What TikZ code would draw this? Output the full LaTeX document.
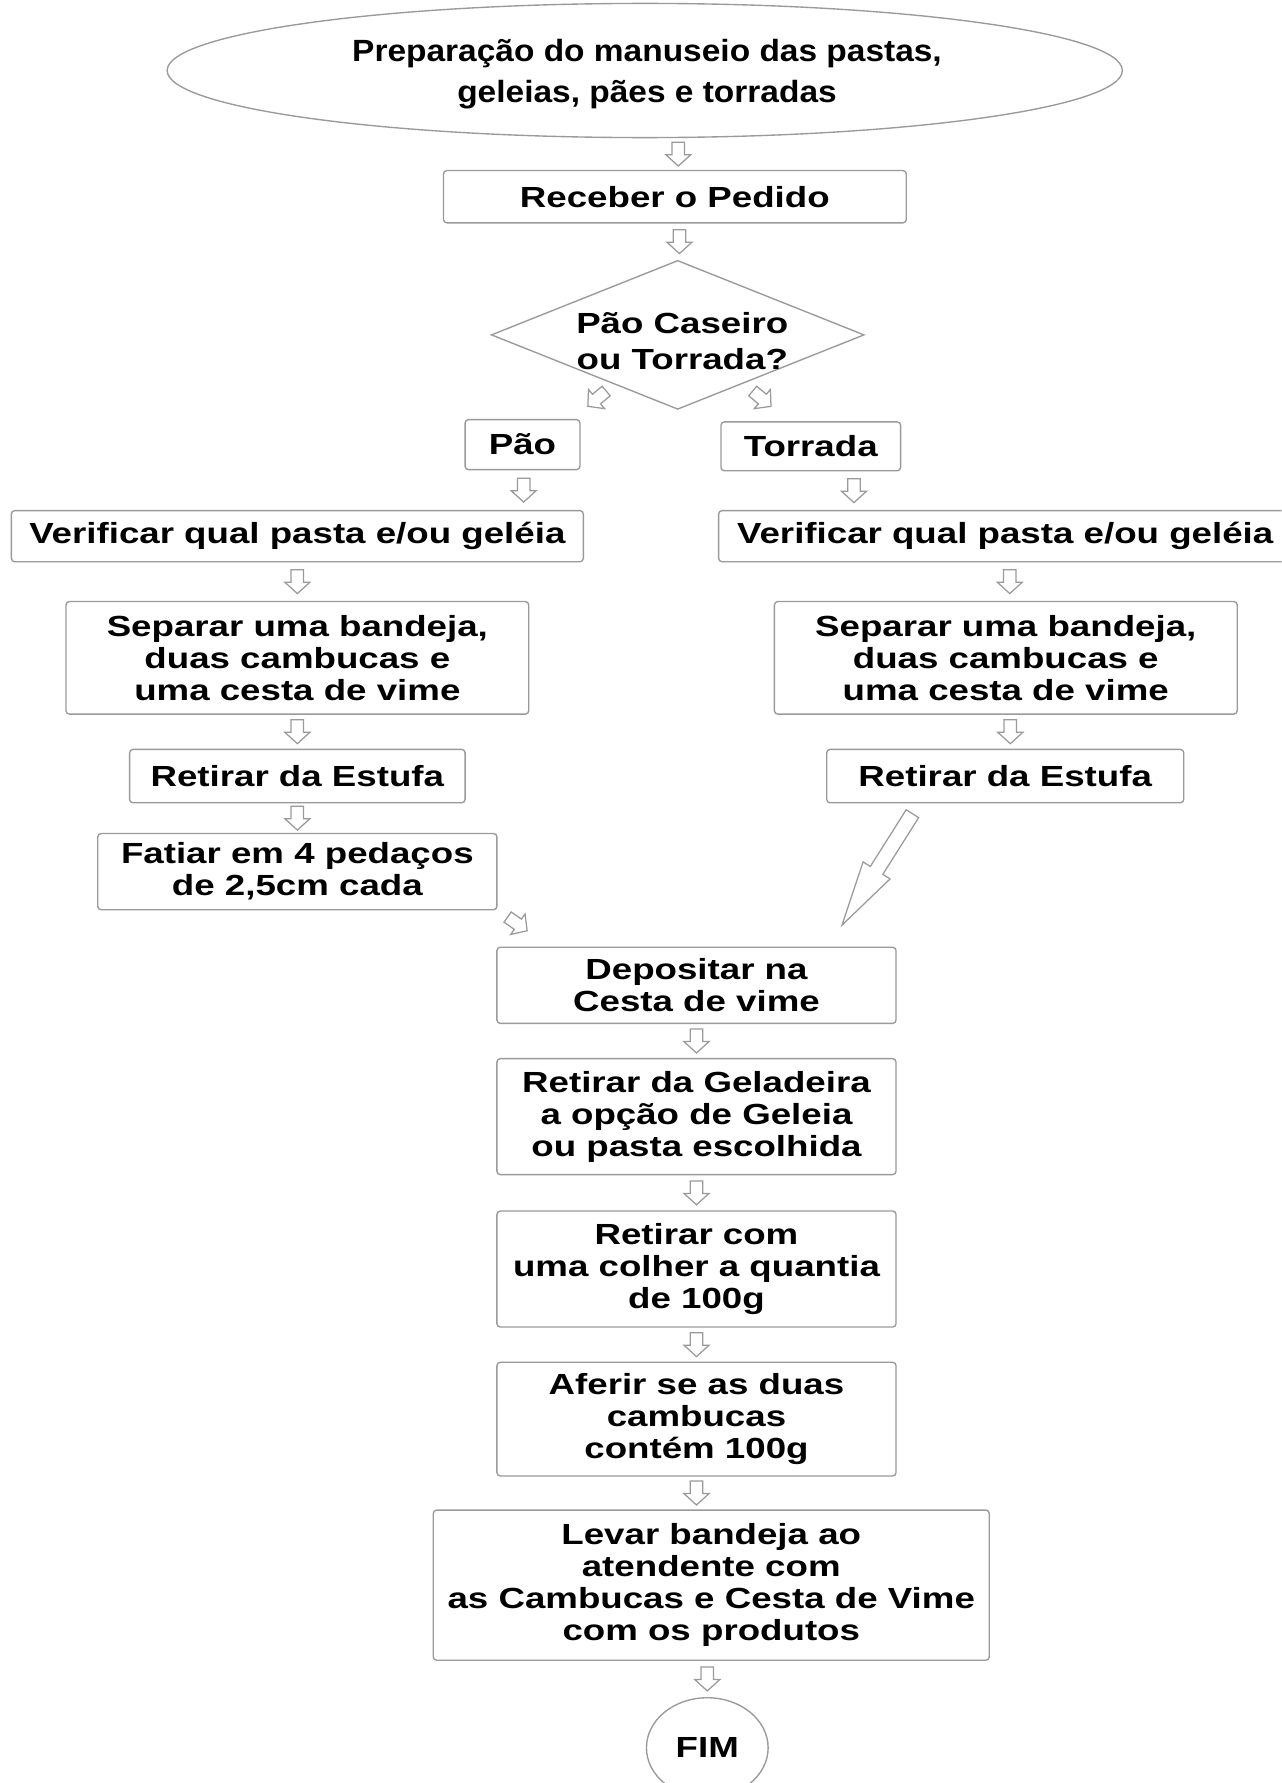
\documentclass[tikz,border=0pt]{standalone}
\usepackage{fontspec}
\setmainfont{Liberation Sans}
\newfontfamily\wideface[FakeStretch=1.26]{Liberation Sans}
\newfontfamily\titleface[FakeStretch=1.09]{Liberation Sans}
\usetikzlibrary{calc,shapes.geometric}

\definecolor{linegray}{HTML}{9A9A9A}

\tikzset{
  outline/.style={draw=linegray, line width=0.6pt},
  sz/.style 2 args={minimum width=#1*0.5pt, minimum height=#2*0.5pt},
  boxfont/.style={font=\wideface\bfseries\fontsize{12.8}{14}\selectfont},
  stepbox/.style={outline, rectangle, rounded corners=1.5pt, inner sep=0pt,
    align=center, boxfont, fill=white},
  bare/.style={inner sep=0pt, align=center, boxfont},
  arrowline/.style={draw=linegray, line width=0.55pt, fill=white, line join=miter},
  % hollow block arrow along +x: length, shaft width, head width, head length
  pics/blockarrow/.style n args={4}{code={
    \draw[arrowline] ({-#1/2},{-#2/2}) -- ({#1/2-#4},{-#2/2}) -- ({#1/2-#4},{-#3/2})
      -- ({#1/2},0) -- ({#1/2-#4},{#3/2}) -- ({#1/2-#4},{#2/2}) -- ({-#1/2},{#2/2}) -- cycle;
  }},
}
\newcommand\flowstep[2][-90]{\pic[rotate=#1] at #2 {blockarrow={21}{11}{22}{10}};}

\begin{document}
\begin{tikzpicture}[x=0.5pt,y=-0.5pt]
\useasboundingbox (0,0) rectangle (1127,1568);
\fill[white] (0,0) rectangle (1127,1568);
\clip (0,0) rectangle (1127,1568);

% start
\node[ellipse, outline, sz={840}{118}, inner sep=0pt] (start) at (567,62) {};
\node[bare, font=\titleface\bfseries\fontsize{13.5}{18.2}\selectfont] (starttext) at (569,65)
  {Preparação do manuseio das pastas,\\geleias, pães e torradas};

\node[stepbox, sz={407}{46}] (recv) at (593.5,173) {Receber o Pedido};

% decision
\node[diamond, outline, sz={328}{131}, inner sep=0pt] (dec) at (596,294.5) {};
\node[bare, font=\wideface\bfseries\fontsize{12.8}{16}\selectfont] (dectext) at (600,300) {Pão Caseiro\\ou Torrada?};

\node[stepbox, sz={101}{44}] (pao) at (459.5,391) {Pão};
\node[stepbox, sz={158}{43}] (torr) at (713,392.5) {Torrada};

% left branch
\node[stepbox, sz={503}{45}] (verL) at (261.5,471.5) {Verificar qual pasta e/ou geléia};
\node[stepbox, sz={407}{99}] (sepL) at (261.5,578.5) {Separar uma bandeja,\\duas cambucas e\\uma cesta de vime};
\node[stepbox, sz={295}{47}] (retL) at (261.5,682.5) {Retirar da Estufa};
\node[stepbox, sz={351}{67}] (fat) at (261.5,766.5) {Fatiar em 4 pedaços\\de 2,5cm cada};

% right branch
\node[stepbox, sz={504}{45}] (verR) at (884,471.5) {Verificar qual pasta e/ou geléia};
\node[stepbox, sz={407}{99}] (sepR) at (884.5,578.5) {Separar uma bandeja,\\duas cambucas e\\uma cesta de vime};
\node[stepbox, sz={314}{47}] (retR) at (884,682.5) {Retirar da Estufa};

% common trunk
\node[stepbox, sz={351}{67}] (dep) at (612.5,866.5) {Depositar na\\Cesta de vime};
\node[stepbox, sz={351}{102}] (gel) at (612.5,982) {Retirar da Geladeira\\a opção de Geleia\\ou pasta escolhida};
\node[stepbox, sz={351}{102}] (col) at (612.5,1116) {Retirar com\\uma colher a quantia\\de 100g};
\node[stepbox, sz={351}{100}] (afe) at (612.5,1248) {Aferir se as duas\\cambucas\\contém 100g};
\node[stepbox, sz={489}{132}] (lev) at (625.5,1394) {Levar bandeja ao\\atendente com\\as Cambucas e Cesta de Vime\\com os produtos};
\node[ellipse, outline, sz={107}{88}, inner sep=0pt, boxfont] (fim) at (622,1537) {FIM};

% connectors
\flowstep{($(recv.north)!0.5!(recv.north|-start.south)+(3,0)$)}
\flowstep{($(recv.south)!0.5!(recv.south|-dec.north)+(4,0)$)}
\flowstep[-140]{($(dec.south)+(-71,-10)$)}
\flowstep[-40]{($(dec.south)+(74,-10)$)}
\flowstep{($(pao.south)!0.5!(pao.south|-verL.north)+(1,0)$)}
\flowstep{($(torr.south)!0.5!(torr.south|-verR.north)+(38,0)$)}
\flowstep{($(verL.south)!0.5!(sepL.north)$)}
\flowstep{($(verR.south)!0.5!(verR.south|-sepR.north)+(4,0)$)}
\flowstep{($(sepL.south)!0.5!(retL.north)$)}
\flowstep{($(sepR.south)!0.5!(sepR.south|-retR.north)+(4,0)$)}
\flowstep{($(retL.south)!0.5!(fat.north)$)}
\flowstep[-35]{($(fat.south east)!0.5!(dep.north west)+(18,-4)$)}
\pic[rotate=-122.3] at ($(retR.south west)+(45,58)$) {blockarrow={116}{13}{28}{57}};
\flowstep{($(dep.south)!0.5!(gel.north)$)}
\flowstep{($(gel.south)!0.5!(col.north)$)}
\flowstep{($(col.south)!0.5!(afe.north)$)}
\flowstep{($(afe.south)!0.5!(afe.south|-lev.north)$)}
\flowstep{($(fim.north)!0.5!(fim.north|-lev.south)$)}
\end{tikzpicture}
\end{document}
